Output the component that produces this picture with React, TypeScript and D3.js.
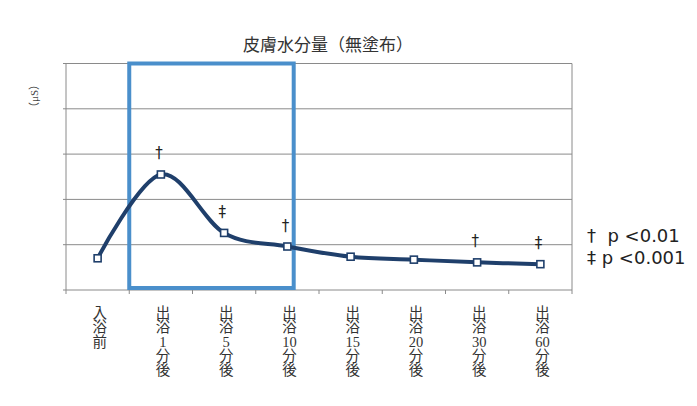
import { useEffect, useRef } from 'react';
import * as d3 from 'd3';

const title = '皮膚水分量（無塗布）';
const yLabel = '（μS）';
const categories = ['入浴前', '出浴1分後', '出浴5分後', '出浴10分後', '出浴15分後', '出浴20分後', '出浴30分後', '出浴60分後'];
const tickLines = [
  ['入', '浴', '前'],
  ['出', '浴', '1', '分', '後'],
  ['出', '浴', '5', '分', '後'],
  ['出', '浴', '10', '分', '後'],
  ['出', '浴', '15', '分', '後'],
  ['出', '浴', '20', '分', '後'],
  ['出', '浴', '30', '分', '後'],
  ['出', '浴', '60', '分', '後'],
];
const values = [0.7, 2.55, 1.26, 0.96, 0.735, 0.67, 0.61, 0.57];
const marks = ['', '†', '‡', '†', '', '', '†', '‡'];
const legendItems = ['†  p <0.01', '‡ p <0.001'];
const yTicks = [0, 1, 2, 3, 4, 5];

const serif = '"Liberation Serif", "DejaVu Serif", "Noto Sans CJK JP", serif';
const sans = '"DejaVu Sans", "Noto Sans CJK JP", sans-serif';

function App() {
  const svgRef = useRef<SVGSVGElement | null>(null);
  const width = 697;
  const height = 406;
  const margin = { top: 63.5, right: 125, bottom: 116, left: 66 };

  useEffect(() => {
    const svg = d3.select(svgRef.current);
    svg.selectAll('*').remove();

    const x = d3
      .scaleBand<string>()
      .domain(categories)
      .range([margin.left, width - margin.right]);
    const bw = x.bandwidth();
    const cx = (i: number) => (x(categories[i]) as number) + bw / 2;

    const y = d3
      .scaleLinear()
      .domain([0, 5])
      .range([height - margin.bottom, margin.top]);

    // gridlines
    svg
      .append('g')
      .selectAll('line')
      .data(yTicks)
      .join('line')
      .attr('x1', margin.left - 3)
      .attr('x2', width - margin.right)
      .attr('y1', (d) => y(d))
      .attr('y2', (d) => y(d))
      .attr('stroke', '#8a8a8a')
      .attr('stroke-width', 1);

    // left and right border
    [margin.left, width - margin.right].forEach((xx) => {
      svg
        .append('line')
        .attr('x1', xx)
        .attr('x2', xx)
        .attr('y1', y(5))
        .attr('y2', y(0))
        .attr('stroke', '#8a8a8a');
    });

    // x ticks
    const tickXs = categories.map((c) => x(c) as number).concat([width - margin.right]);
    svg
      .append('g')
      .selectAll('line')
      .data(tickXs)
      .join('line')
      .attr('x1', (d) => d)
      .attr('x2', (d) => d)
      .attr('y1', y(0))
      .attr('y2', y(0) + 4)
      .attr('stroke', '#8a8a8a');

    // x labels, stacked vertically, one text per category
    const labels = svg
      .append('g')
      .attr('font-family', serif)
      .attr('font-size', 14.5)
      .attr('fill', '#333')
      .attr('text-anchor', 'middle');
    tickLines.forEach((lines, i) => {
      const t = labels
        .append('text')
        .attr('x', cx(i) + 2)
        .attr('y', y(0) + 28);
      lines.forEach((ch, j) => {
        t.append('tspan')
          .attr('x', cx(i) + 2)
          .attr('dy', j === 0 ? 0 : 14.3)
          .text(ch);
      });
    });

    // highlight rectangle
    const rx = x(categories[1]) as number;
    svg
      .append('rect')
      .attr('x', rx)
      .attr('y', y(5))
      .attr('width', cx(3) + bw * 0.1 - rx)
      .attr('height', y(0) - 2 - y(5))
      .attr('fill', 'none')
      .attr('stroke', '#4a8fcb')
      .attr('stroke-width', 4);

    // line
    const line = d3
      .line<number>()
      .x((_, i) => cx(i))
      .y((d) => y(d))
      .curve(d3.curveCardinal.tension(0));
    svg
      .append('path')
      .datum(values)
      .attr('fill', 'none')
      .attr('stroke', '#1f3f6b')
      .attr('stroke-width', 4)
      .attr('stroke-linejoin', 'round')
      .attr('d', line);

    // markers
    svg
      .append('g')
      .selectAll('rect')
      .data(values)
      .join('rect')
      .attr('x', (_, i) => cx(i) - 3.5)
      .attr('y', (d) => y(d) - 3.5)
      .attr('width', 7)
      .attr('height', 7)
      .attr('fill', '#fff')
      .attr('stroke', '#1f3f6b')
      .attr('stroke-width', 1.6);

    // significance marks
    svg
      .append('g')
      .attr('font-family', sans)
      .attr('font-size', 15)
      .attr('fill', '#222')
      .attr('text-anchor', 'middle')
      .selectAll('text')
      .data(marks)
      .join('text')
      .attr('x', (_, i) => cx(i) - 2)
      .attr('y', (_, i) => y(values[i]) - 16)
      .text((d) => d);

    // title
    svg
      .append('text')
      .attr('x', 328)
      .attr('y', 51)
      .attr('text-anchor', 'middle')
      .attr('font-family', serif)
      .attr('font-size', 17)
      .attr('fill', '#333')
      .text(title);

    // y label
    svg
      .append('text')
      .attr('transform', `translate(38,96) rotate(-90)`)
      .attr('text-anchor', 'middle')
      .attr('font-family', serif)
      .attr('font-size', 11)
      .attr('fill', '#444')
      .text(yLabel);

    // legend
    svg
      .append('g')
      .attr('font-family', sans)
      .attr('font-size', 18)
      .attr('fill', '#222')
      .selectAll('text')
      .data(legendItems)
      .join('text')
      .attr('x', 587)
      .attr('y', (_, i) => 242 + i * 22)
      .attr('xml:space', 'preserve')
      .style('white-space', 'pre')
      .text((d) => d);
  }, []);

  return (
    <svg
      ref={svgRef}
      width={width}
      height={height}
      style={{ position: 'absolute', left: 0, top: 0, background: '#fff' }}
    />
  );
}

export default App;
